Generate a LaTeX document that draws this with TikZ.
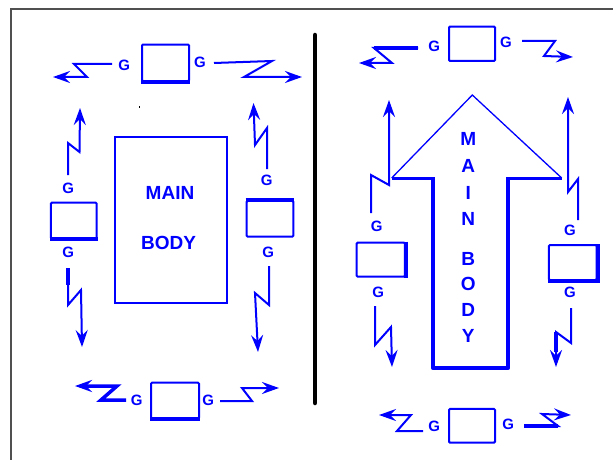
\documentclass[tikz,border=0pt]{standalone}
\usepackage{fontspec}
\setmainfont{Liberation Sans}
\usetikzlibrary{arrows.meta}
\definecolor{gblue}{RGB}{0,0,255}
\definecolor{framegrey}{RGB}{80,80,80}
\tikzset{
  glab/.style={font=\fontsize{15}{15}\selectfont\bfseries, text=gblue, inner sep=0pt},
  mlab/.style={font=\fontsize{19}{19}\selectfont\bfseries, text=gblue, inner sep=0pt},
  gbox/.style={draw=gblue, line width=2pt, rounded corners=1pt, inner sep=0pt},
  thickside/.style={draw=gblue, line width=4pt},
  conn/.style={draw=gblue, line width=2pt, -{Stealth[length=17pt,width=12pt,inset=6pt]}},
  thickseg/.style={draw=gblue, line width=4pt},
}
\begin{document}
\begin{tikzpicture}[x=1pt,y=-1pt]
\useasboundingbox (0,0) rectangle (613,460);
% frame and divider
\draw[framegrey, line width=2pt] (11,470) -- (11,9) -- (620,9);
\draw[black, line width=4.5pt, line cap=round] (315,35) -- (315,403);
\fill[black] (138.5,106) rectangle +(1.6,1.6);

% ---------------- LEFT PANEL ----------------
\node[gbox, minimum width=47pt, minimum height=36.5pt] (lt) at (165.5,62.8) {};
\draw[thickside] (lt.south west) -- (lt.south east);
\node[gbox, minimum width=45.7pt, minimum height=35.6pt] (ll) at (73.8,220.5) {};
\draw[thickside] (ll.south west) -- (ll.south east);
\node[gbox, minimum width=46.6pt, minimum height=35.7pt] (lr) at (270,218.8) {};
\draw[thickside] (lr.north west) -- (lr.north east);
\node[gbox, minimum width=48pt, minimum height=35.6pt] (lbx) at (175,400.5) {};
\draw[thickside] (lbx.south west) -- (lbx.south east);

\node[draw=gblue, line width=2pt, inner sep=0pt, minimum width=112.3pt, minimum height=166pt] (lmain) at (171.2,219.7) {};
\node[mlab] (lmaint) at (170,193.3) {MAIN};
\node[mlab] (lbodyt) at (168.5,243.3) {BODY};

\node[glab] (ltg1) at (124.3,65) {G};
\node[glab] (ltg2) at (200,62) {G};
\node[glab] (llg1) at (68.3,188.3) {G};
\node[glab] (llg2) at (68.3,252.7) {G};
\node[glab] (lrg1) at (266.7,180) {G};
\node[glab] (lrg2) at (268.3,252.7) {G};
\node[glab] (lbg1) at (136.7,400.7) {G};
\node[glab] (lbg2) at (208.3,400) {G};

\coordinate (a1s) at (112,64);  \coordinate (a1e) at (53,77);
\draw[conn] (a1s) -- (74,64) -- (87,77) -- (a1e);
\coordinate (a2s) at (214,63);  \coordinate (a2e) at (302,77);
\draw[conn] (a2s) -- (272,61) -- (244,77) -- (a2e);
\coordinate (a3s) at (68,175);  \coordinate (a3e) at (80,108);
\draw[conn] (a3s) -- (68,143) -- (79.5,152) -- (a3e);
\coordinate (a4s) at (267,169); \coordinate (a4e) at (253.5,103);
\draw[conn] (a4s) -- (267,128) -- (255,145) -- (a4e);
\coordinate (a5s) at (68,268);  \coordinate (a5e) at (82,347);
\draw[thickseg] (a5s) -- (68,285);
\draw[conn] (a5s) -- (68,305) -- (81,290) -- (a5e);
\coordinate (a6s) at (269,266); \coordinate (a6e) at (258,352);
\draw[conn] (a6s) -- (269,305) -- (255,293) -- (a6e);
\coordinate (a7s) at (126,400); \coordinate (a7e) at (75,386);
\draw[conn, line width=3.5pt] (a7s) -- (101,400) -- (117,386) -- (a7e);
\coordinate (a8s) at (220,401); \coordinate (a8e) at (279,388);
\draw[conn] (a8s) -- (252,401) -- (242,388) -- (a8e);

% ---------------- RIGHT PANEL ----------------
\node[gbox, minimum width=46pt, minimum height=34.3pt] (rt) at (472,43.8) {};
\node[gbox, minimum width=48.3pt, minimum height=34pt] (rl) at (380.8,259.7) {};
\draw[thickside] (rl.north east) -- (rl.south east);
\node[gbox, minimum width=47.7pt, minimum height=35pt] (rr) at (572.8,262.5) {};
\draw[thickside] (rr.north east) -- (rr.south east) -- (rr.south west);
\node[gbox, minimum width=46pt, minimum height=33.7pt] (rb) at (472,425.8) {};

% big arrow
\draw[gblue, line width=1.3pt, line join=miter] (391.7,178) -- (472.3,95) -- (561.7,178);
\draw[gblue, line width=3pt] (391.7,178) -- (433.3,178);
\draw[gblue, line width=3pt] (507.7,178) -- (561.7,178);
\draw[gblue, line width=3.8pt, line join=round] (433.3,177) -- (433.3,368.3) -- (507.7,368.3) -- (507.7,177);

\node[mlab] (lm) at (468.3,139) {M};
\node[mlab] (la) at (468.3,165.5) {A};
\node[mlab] (li) at (468.3,193) {I};
\node[mlab] (ln) at (468.3,219.3) {N};
\node[mlab] (lbl) at (468.3,259.3) {B};
\node[mlab] (lo) at (468.3,284.3) {O};
\node[mlab] (ld) at (468.3,310) {D};
\node[mlab] (ly) at (468.3,335.5) {Y};

\node[glab] (rtg1) at (434.3,46.7) {G};
\node[glab] (rtg2) at (506,42.7) {G};
\node[glab] (rlg1) at (376.7,226.7) {G};
\node[glab] (rlg2) at (378.3,292.7) {G};
\node[glab] (rrg1) at (570,230) {G};
\node[glab] (rrg2) at (570,292.7) {G};
\node[glab] (rbg1) at (434.3,426.7) {G};
\node[glab] (rbg2) at (508.3,424.3) {G};

\coordinate (b1s) at (418,48);  \coordinate (b1e) at (359,63);
\draw[thickseg] (b1s) -- (374,48);
\draw[conn] (b1s) -- (374,48) -- (392,63) -- (b1e);
\coordinate (b2s) at (522,41);  \coordinate (b2e) at (573,57);
\draw[conn] (b2s) -- (555,41) -- (544,56) -- (b2e);
\coordinate (b3s) at (371,213); \coordinate (b3e) at (389,100);
\draw[conn] (b3s) -- (371,175) -- (389,185) -- (b3e);
\coordinate (b4s) at (578,220); \coordinate (b4e) at (568,97);
\draw[conn] (b4s) -- (578,179) -- (568,192) -- (b4e);
\coordinate (b5s) at (375,306); \coordinate (b5e) at (392,367);
\draw[conn] (b5s) -- (375,345) -- (391,327) -- (b5e);
\coordinate (b6s) at (571,308); \coordinate (b6e) at (556,367);
\draw[thickseg] (556,332) -- (556,352);
\draw[conn] (b6s) -- (571,343) -- (556,332) -- (b6e);
\coordinate (b7s) at (423,431); \coordinate (b7e) at (379,415);
\draw[conn] (b7s) -- (397,431) -- (411,415) -- (b7e);
\coordinate (b8s) at (524,426); \coordinate (b8e) at (571,415);
\draw[thickseg] (b8s) -- (558,426);
\draw[conn] (b8s) -- (558,426) -- (542,414) -- (b8e);
\end{tikzpicture}
\end{document}
